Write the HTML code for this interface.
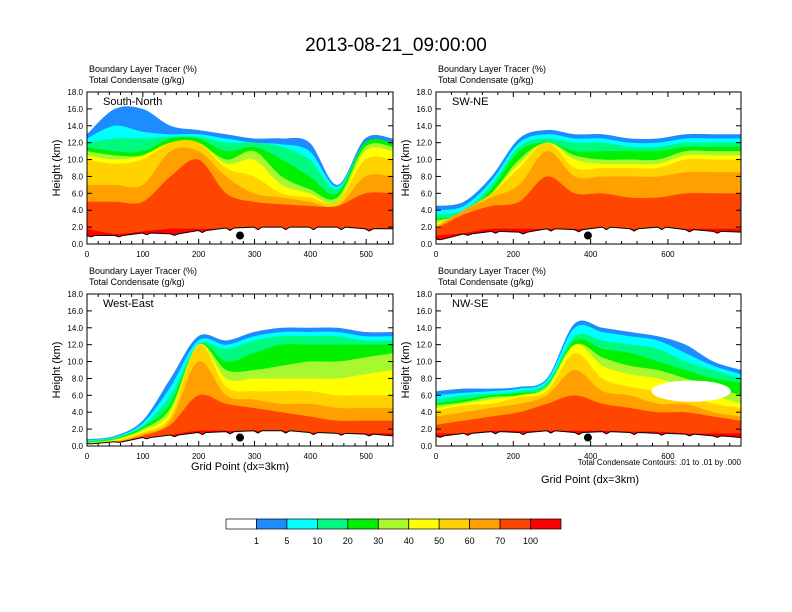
<!DOCTYPE html>
<html><head><meta charset="utf-8"><style>
body{margin:0;background:#fff;}
svg{display:block;font-family:"Liberation Sans",sans-serif;}
</style></head><body>
<svg id="chart" width="792" height="612" viewBox="0 0 792 612">
<text x="396" y="51" text-anchor="middle" font-size="19">2013-08-21_09:00:00</text>
<g id="panels"></g>
<g id="colorbar"></g>
</svg>
<script>
const levelColors = ["#ffffff","#1e8cff","#00ffff","#00fa80","#00f000","#a8f830","#ffff00","#ffd200","#ffa000","#ff4600","#ff0000"];
const levelLabels = ["1","5","10","20","30","40","50","60","70","100"];
const panelNames = ["South-North","SW-NE","West-East","NW-SE"];

// band top heights (km) at evenly spaced samples along each panel's grid range
const p1Bands = [
 [13,16,16,14,13.5,13,12.5,12.5,12,7,12.5,12.5],
 [12.5,14,13.3,13,13,12.5,12,11.8,11,6.8,12,12],
 [12,12.5,12.5,12.7,12.7,12,12,11.5,10,6.5,12,12],
 [11.5,11,11,12.5,12.5,11,11.5,10,8,6,12,12],
 [11,10.5,10.5,12,12,10,11,8,6.5,5.5,11.5,11.5],
 [10.5,10,10.5,12,12,9.5,10,7,6,5,11,11],
 [10,9.5,10,12,12,9,8,6,5.5,5,10,10],
 [7,7,7,11,11,8,6,5.5,5,4.5,8,8],
 [5,5,5,8,10,6,5,4.7,4.5,4.5,6,6],
 [1.8,1.2,1.5,1.8,1.8,1.8,1.8,1.8,1.8,1.8,1.8,1.8]];
const p2Bands = [
 [4.5,5,8,12.5,13.5,13,13,12.5,12.5,13,13,13],
 [4,4.5,7.5,12,13,12.5,12.5,12,12,12.5,12.5,12.5],
 [3.5,4,7,11.5,12.5,12,12,11.5,11.5,12,12,12],
 [3,3.5,6.5,11,12,11,11,11,11,11.5,11.5,11.5],
 [2.8,3.5,6,10,12,10.5,10,10,10,11,11,11],
 [2.5,3.5,6,9.5,12,10,9.5,9.5,9.5,10.5,10.5,10.5],
 [2.2,4,6,9,12,9,9,9,9,10,10,10],
 [2,4,5.5,7,11,8,8,8,8,8.5,8.5,8.5],
 [1.8,3.5,4.5,5,8,6,6,5.5,5.5,6,6,6],
 [1,1.3,1.8,1.8,1.8,1.8,1.8,1.8,1.8,1.8,1.8,1.8]];
const p3Bands = [
 [0.8,1.2,3,8,13,12.5,13.5,14,14,14,13.5,13.5],
 [0.7,1.1,2.7,7,12.5,12,13,13.5,13.5,13.5,13,13],
 [0.6,1,2.4,6,12,11.5,12.5,13,13,13,12.5,12.5],
 [0.5,0.9,2.2,5,12,10,11,12,12,12,12,12],
 [0.4,0.8,2,4.5,12,9,9,9.5,10,10,10.5,11],
 [0.3,0.7,1.8,4,12,8,8,8,8,8,8.5,9],
 [0.2,0.6,1.6,3.5,12,7,6.5,6.5,6.5,6,6,6],
 [0.1,0.5,1.4,3,10,6,5.5,5,5,4.5,4.5,4.5],
 [0,0.4,1.2,2.5,6,5,4.5,4,3.5,3,3,3],
 [0,0.2,0.7,1.3,1.8,1.8,1.8,1.8,1.6,1.5,1.5,1.5]];
const p4Bands = [
 [6.5,6.8,6.8,7,8,14.5,14,13.5,13,12,10,9],
 [6,6.3,6.5,6.8,7.8,14,13.5,13,12.5,11,9.5,8.5],
 [5.5,6,6.2,6.5,7.5,13,12.5,12,11.5,10,9,8],
 [5,5.5,6,6.3,7,12.5,11.5,11,10,9,8,7.5],
 [4.8,5.2,5.8,6,7,12,10.5,9.5,9,8,7,6],
 [4.5,5,5.5,6,7,12,9.5,8.5,8,7,6,5],
 [4.2,4.8,5,5.8,6.5,11,8,7,6.5,6,5,4.5],
 [3.5,4,4.5,5,6,9,6.5,6,5,5,4,3.5],
 [2.5,3,3.5,4,5,6,5,4.5,4,4,3.5,3],
 [1.5,1.5,1.8,1.8,1.8,1.8,1.8,1.7,1.7,1.5,1.5,1.5]];
const p1Ground = [1,1,1.3,1.2,1.6,1.9,2,2,2,2,1.8,1.8];
const p2Ground = [0.6,1.2,1.5,1.4,1.8,1.7,2,1.8,2,1.7,1.5,1.4];
const p3Ground = [0.3,0.5,1,1.3,1.6,1.7,1.8,1.8,1.6,1.5,1.4,1.2];
const p4Ground = [1.2,1.5,1.7,1.6,1.8,1.6,1.7,1.6,1.5,1.4,1.2,1.0];
const dotGrid = [274,393,274,393];
const xMax = [548,789,548,789];
const xTickLabels = [[0,100,200,300,400,500],[0,200,400,600],[0,100,200,300,400,500],[0,200,400,600]];
const yTickLabels = [0,2,4,6,8,10,12,14,16,18];

const NS="http://www.w3.org/2000/svg";
function mk(tag,attrs,parent){const e=document.createElementNS(NS,tag);for(const k in attrs)e.setAttribute(k,attrs[k]);parent.appendChild(e);return e;}
const geom=[{x0:87,y0:92},{x0:436,y0:92},{x0:87,y0:294},{x0:436,y0:294}];
const bandsAll=[p1Bands,p2Bands,p3Bands,p4Bands];
const groundAll=[p1Ground,p2Ground,p3Ground,p4Ground];
const W=[306,305,306,305],H=152;
function smoothPath(pts){let d="M"+pts[0][0]+","+pts[0][1];for(let i=0;i<pts.length-1;i++){const p0=pts[Math.max(0,i-1)],p1=pts[i],p2=pts[i+1],p3=pts[Math.min(pts.length-1,i+2)];
 d+=" C"+(p1[0]+(p2[0]-p0[0])/6)+","+(p1[1]+(p2[1]-p0[1])/6)+" "+(p2[0]-(p3[0]-p1[0])/6)+","+(p2[1]-(p3[1]-p1[1])/6)+" "+p2[0]+","+p2[1];}return d;}
const root=document.getElementById("panels");
for(let p=0;p<4;p++){
 const {x0,y0}=geom[p],w=W[p];
 const sx=v=>x0+v/xMax[p]*w, sy=v=>y0+H-v/18*H;
 const g=mk("g",{},root);
 
 
 const cid="clip"+p;
 const cp=mk("clipPath",{id:cid},g);mk("rect",{x:x0,y:y0,width:w,height:H},cp);
 const fg=mk("g",{"clip-path":"url(#"+cid+")"},g);
 const bands=bandsAll[p];
 bands.forEach((arr,i)=>{
  const pts=arr.map((v,j)=>[sx(j/(arr.length-1)*xMax[p]),sy(v)]);
  const d=smoothPath(pts)+" L"+(x0+w)+","+(y0+H)+" L"+x0+","+(y0+H)+"Z";
  const e=mk("path",{d:d,fill:levelColors[i+1]},fg);
  
  
 });
 if(p===3){const e=mk("ellipse",{cx:sx(660),cy:sy(6.5),rx:w*0.13,ry:H*0.07,fill:"#fff"},fg);
  }
 const gr=groundAll[p];
 let gd="M"+x0+","+(y0+H);
 gr.forEach((v,j)=>{const xx=sx(j/(gr.length-1)*xMax[p]);gd+=" L"+xx+","+sy(v)+" L"+(xx+4)+","+sy(v*0.85)+" L"+(xx+8)+","+sy(v);});
 gd+=" L"+(x0+w)+","+(y0+H)+"Z";
 const tg=mk("path",{d:gd,fill:"#fff",stroke:"#000","stroke-width":"1"},fg);
 
 const dot=mk("circle",{cx:sx(dotGrid[p]),cy:sy(1),r:4,fill:"#000"},g);
 
 const fr=mk("rect",{x:x0,y:y0,width:w,height:H,fill:"none",stroke:"#000","stroke-width":"1"},g);
 
 yTickLabels.forEach(v=>{const yy=sy(v);
  mk("line",{x1:x0,x2:x0+5,y1:yy,y2:yy,stroke:"#000"},g);mk("line",{x1:x0+w,x2:x0+w-5,y1:yy,y2:yy,stroke:"#000"},g);
  const t=mk("text",{x:x0-4,y:yy+3,"text-anchor":"end","font-size":"8"},g);t.textContent=v.toFixed(1);
  });
 const step=xTickLabels[p][1];
 for(let v=0;v<=xMax[p];v+=step/5){const xx=sx(v),maj=(v%step===0);
  mk("line",{x1:xx,x2:xx,y1:y0+H,y2:y0+H-(maj?5:3),stroke:"#000"},g);mk("line",{x1:xx,x2:xx,y1:y0,y2:y0+(maj?5:3),stroke:"#000"},g);}
 xTickLabels[p].forEach(v=>{const t=mk("text",{x:sx(v),y:y0+H+13,"text-anchor":"middle","font-size":"8"},g);t.textContent=v;
  });
 const yt=mk("text",{x:0,y:0,transform:"translate("+(x0-27)+","+(y0+H/2)+") rotate(-90)","text-anchor":"middle","font-size":"11"},g);yt.textContent="Height (km)";
 
 const t1=mk("text",{x:x0+2,y:y0-20,"font-size":"9"},g);t1.textContent="Boundary Layer Tracer   (%)";
 
 const t2=mk("text",{x:x0+2,y:y0-9,"font-size":"9"},g);t2.textContent="Total Condensate   (g/kg)";
 
 const nm=mk("text",{x:x0+16,y:y0+13,"font-size":"11"},g);nm.textContent=panelNames[p];
 
}
const svg=document.getElementById("chart");
let e=mk("text",{x:240,y:470,"text-anchor":"middle","font-size":"11"},svg);e.textContent="Grid Point (dx=3km)";

e=mk("text",{x:590,y:483,"text-anchor":"middle","font-size":"11"},svg);e.textContent="Grid Point (dx=3km)";

e=mk("text",{x:741,y:465,"text-anchor":"end","font-size":"8"},svg);e.textContent="Total Condensate Contours: .01 to .01 by .000";

const cb=document.getElementById("colorbar");
const bw=(561-226)/levelColors.length;
levelColors.forEach((c,i)=>{const r=mk("rect",{x:226+i*bw,y:519,width:bw,height:10,fill:c,stroke:"#000","stroke-width":"0.7"},cb);
 });
levelLabels.forEach((l,i)=>{const t=mk("text",{x:226+(i+1)*bw,y:544,"text-anchor":"middle","font-size":"9"},cb);t.textContent=l;
 });
</script>
</body></html>
